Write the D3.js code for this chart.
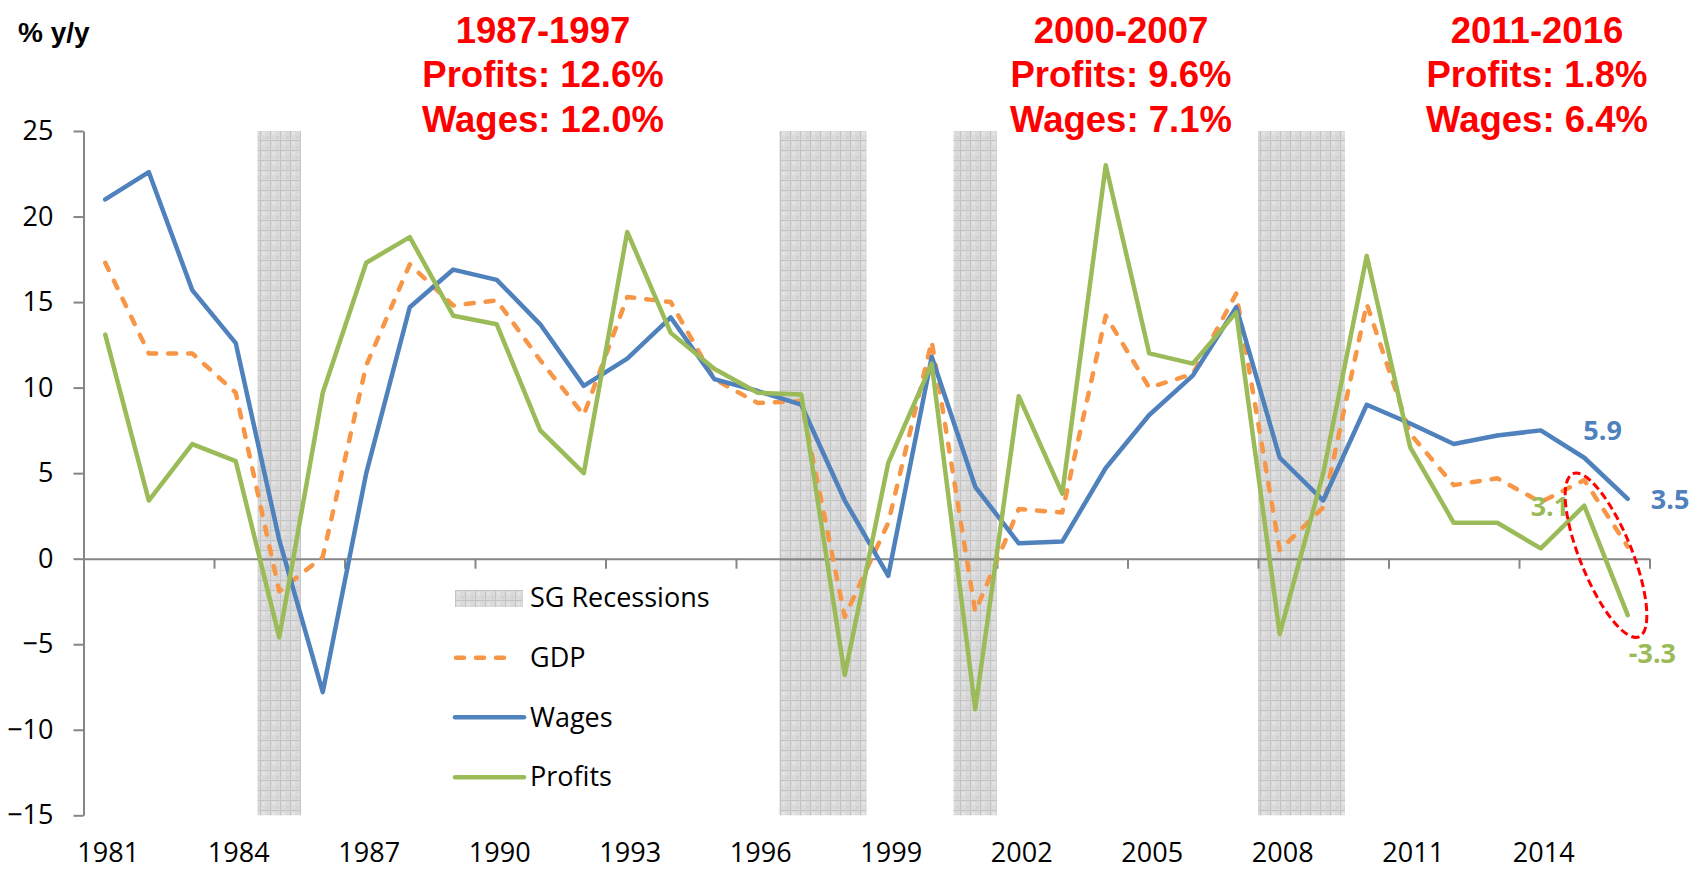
<!DOCTYPE html>
<meta charset="utf-8">
<style>
body { margin: 0; background: #fff; }
svg { display: block; }
.axis path, .axis line { stroke: #868686; stroke-width: 2; }
.series { fill: none; stroke-width: 4.5; stroke-linejoin: round; stroke-linecap: round; }
.title { font-family: "Liberation Sans", Arial, sans-serif; font-weight: bold; fill: #ff0000; font-size: 36.5px; text-anchor: middle; }
.lbl { font-family: "Open Sans", Lato, sans-serif; font-size: 27px; fill: #000; }
.dlabel { font-family: "Open Sans", Lato, sans-serif; font-size: 27px; font-weight: bold; }
</style>
<svg width="1692" height="869"></svg>
<script src="https://d3js.org/d3.v7.min.js"></script>
<script>

var years = [1981, 1982, 1983, 1984, 1985, 1986, 1987, 1988, 1989, 1990, 1991, 1992,
             1993, 1994, 1995, 1996, 1997, 1998, 1999, 2000, 2001, 2002, 2003, 2004,
             2005, 2006, 2007, 2008, 2009, 2010, 2011, 2012, 2013, 2014, 2015, 2016];

var gdp = [17.3, 12.0, 12.0, 9.7, -1.9, 0.1, 11.3, 17.2, 14.8, 15.1, 11.6, 8.4,
           15.3, 15.0, 10.5, 9.1, 9.2, -3.4, 2.1, 12.7, -3.1, 2.9, 2.7, 14.2,
           10.0, 10.8, 15.5, 0.5, 3.0, 14.9, 7.3, 4.3, 4.7, 3.3, 4.6, 0.7];

var wages = [21.0, 22.6, 15.7, 12.6, 1.1, -7.8, 5.0, 14.7, 16.9, 16.3, 13.7, 10.1,
             11.7, 14.1, 10.5, 9.8, 9.0, 3.4, -1.0, 11.8, 4.2, 0.9, 1.0, 5.3,
             8.4, 10.7, 14.7, 5.9, 3.4, 9.0, 7.9, 6.7, 7.2, 7.5, 5.9, 3.5];

var profits = [13.1, 3.4, 6.7, 5.7, -4.6, 9.7, 17.3, 18.8, 14.2, 13.7, 7.5, 5.0,
               19.1, 13.2, 11.1, 9.7, 9.6, -6.8, 5.6, 11.4, -8.8, 9.5, 3.8, 23.0,
               12.0, 11.4, 14.4, -4.4, 5.0, 17.7, 6.5, 2.1, 2.1, 0.6, 3.1, -3.3];

var recessions = [[1985, 1985], [1997, 1998], [2001, 2001], [2008, 2009]];

var yTicks = [25, 20, 15, 10, 5, 0, -5, -10, -15];
var xLabels = [1981, 1984, 1987, 1990, 1993, 1996, 1999, 2002, 2005, 2008, 2011, 2014];

var periods = ["1987-1997", "2000-2007", "2011-2016"];
var periodProfits = ["12.6%", "9.6%", "1.8%"];
var periodWages = ["12.0%", "7.1%", "6.4%"];

var svg = d3.select("svg");

var x = d3.scaleBand().domain(years).range([83.5, 1649.5]);
var xi = d3.scaleLinear().domain([0, years.length]).range(x.range());
var y = d3.scaleLinear().domain([-15, 25]).range([815.3, 131]);
function cx(yr) { return x(yr) + x.bandwidth() / 2; }

// recession pattern
var defs = svg.append("defs");
var pat = defs.append("pattern")
    .attr("id", "rec")
    .attr("width", 10).attr("height", 10)
    .attr("patternUnits", "userSpaceOnUse");
pat.append("rect").attr("width", 10).attr("height", 10).attr("fill", "#dadada");
pat.append("rect").attr("x", 2).attr("y", 2).attr("width", 3).attr("height", 3).attr("fill", "#e4e4e4");
pat.append("rect").attr("x", 6).attr("y", 6).attr("width", 3).attr("height", 3).attr("fill", "#d2d2d2");
pat.append("path").attr("d", "M0 0.5H10M0.5 0V10").attr("stroke", "#c4c4c4").attr("stroke-width", 1);

svg.append("g").selectAll("rect")
  .data(recessions)
  .join("rect")
    .attr("x", function(d) { return x(d[0]); })
    .attr("width", function(d) { return x(d[1]) + x.bandwidth() - x(d[0]); })
    .attr("y", y(25))
    .attr("height", y(-15) - y(25))
    .attr("fill", "url(#rec)");

// y axis
var yAxis = svg.append("g")
    .attr("class", "axis")
    .attr("transform", "translate(" + x.range()[0] + ",0)")
    .call(d3.axisLeft(y).tickValues(yTicks).tickSize(10).tickSizeOuter(0).tickPadding(20));
yAxis.selectAll("text")
    .attr("class", "lbl")
    .attr("fill", "#000");

// x axis on zero line
svg.append("g")
    .attr("class", "axis")
    .attr("transform", "translate(0," + y(0) + ")")
    .call(d3.axisBottom(xi).tickValues(d3.range(0, years.length + 1, 3)).tickSize(10).tickSizeOuter(0).tickFormat(""));

svg.append("g").selectAll("text")
  .data(xLabels)
  .join("text")
    .attr("class", "lbl")
    .attr("x", function(d) { return cx(d) + 3; })
    .attr("y", 862)
    .attr("text-anchor", "middle")
    .text(function(d) { return d; });

// series
var line = d3.line()
    .x(function(d, i) { return cx(years[i]); })
    .y(function(d) { return y(d); });

svg.append("path").attr("class", "series")
    .attr("d", line(gdp))
    .attr("stroke", "#f79646")
    .attr("stroke-dasharray", "8,12");
svg.append("path").attr("class", "series")
    .attr("d", line(wages))
    .attr("stroke", "#4f81bd");
svg.append("path").attr("class", "series")
    .attr("d", line(profits))
    .attr("stroke", "#9bbb59");

// data labels
var last = years.length - 1;
svg.append("text").attr("class", "dlabel").attr("fill", "#4f81bd")
    .attr("x", cx(years[last - 1]) - 1).attr("y", y(wages[last - 1]) - 18)
    .text(wages[last - 1].toFixed(1));
svg.append("text").attr("class", "dlabel").attr("fill", "#4f81bd")
    .attr("x", cx(years[last]) + 23).attr("y", y(wages[last]) + 10)
    .text(wages[last].toFixed(1));
svg.append("text").attr("class", "dlabel").attr("fill", "#9bbb59")
    .attr("text-anchor", "end")
    .attr("x", cx(years[last - 1]) - 15).attr("y", y(profits[last - 1]) + 10)
    .text(profits[last - 1].toFixed(1));
svg.append("text").attr("class", "dlabel").attr("fill", "#9bbb59")
    .attr("x", cx(years[last]) + 1).attr("y", y(profits[last]) + 48)
    .text(profits[last].toFixed(1));

// red ellipse around the last two years
var ex = (cx(years[last - 1]) + cx(years[last])) / 2, ey = y(0.2);
svg.append("ellipse")
    .attr("transform", "translate(" + ex + "," + ey + ") rotate(68)")
    .attr("rx", 88).attr("ry", 26)
    .attr("fill", "none")
    .attr("stroke", "#ff0000")
    .attr("stroke-width", 3)
    .attr("stroke-dasharray", "8,4");

// legend
var legend = svg.append("g").attr("transform", "translate(455,0)");
legend.append("rect").attr("x", 0).attr("y", 590).attr("width", 68).attr("height", 17).attr("fill", "url(#rec)");
legend.append("line").attr("class", "series").attr("x1", 1).attr("x2", 60).attr("y1", 657.7).attr("y2", 657.7)
    .attr("stroke", "#f79646").attr("stroke-dasharray", "8,12");
legend.append("line").attr("class", "series").attr("x1", 0).attr("x2", 69).attr("y1", 717.3).attr("y2", 717.3)
    .attr("stroke", "#4f81bd");
legend.append("line").attr("class", "series").attr("x1", 0).attr("x2", 69).attr("y1", 777.3).attr("y2", 777.3)
    .attr("stroke", "#9bbb59");
legend.selectAll("text.lbl")
  .data(["SG Recessions", "GDP", "Wages", "Profits"])
  .join("text")
    .attr("class", "lbl")
    .attr("x", 75)
    .attr("y", function(d, i) { return 607 + i * 59.8; })
    .text(function(d) { return d; });

// unit label
svg.append("text")
    .attr("x", 18).attr("y", 41.7)
    .attr("font-family", "\"Liberation Sans\", Arial, sans-serif")
    .attr("font-weight", "bold")
    .attr("font-size", 28)
    .text("% y/y");

// period annotations
var centers = [543, 1121, 1537];
periods.forEach(function(p, i) {
  var lines = [p, "Profits: " + periodProfits[i], "Wages: " + periodWages[i]];
  lines.forEach(function(t, j) {
    svg.append("text")
        .attr("class", "title")
        .attr("x", centers[i])
        .attr("y", 43.3 + j * 44.1)
        .text(t);
  });
});

</script>
